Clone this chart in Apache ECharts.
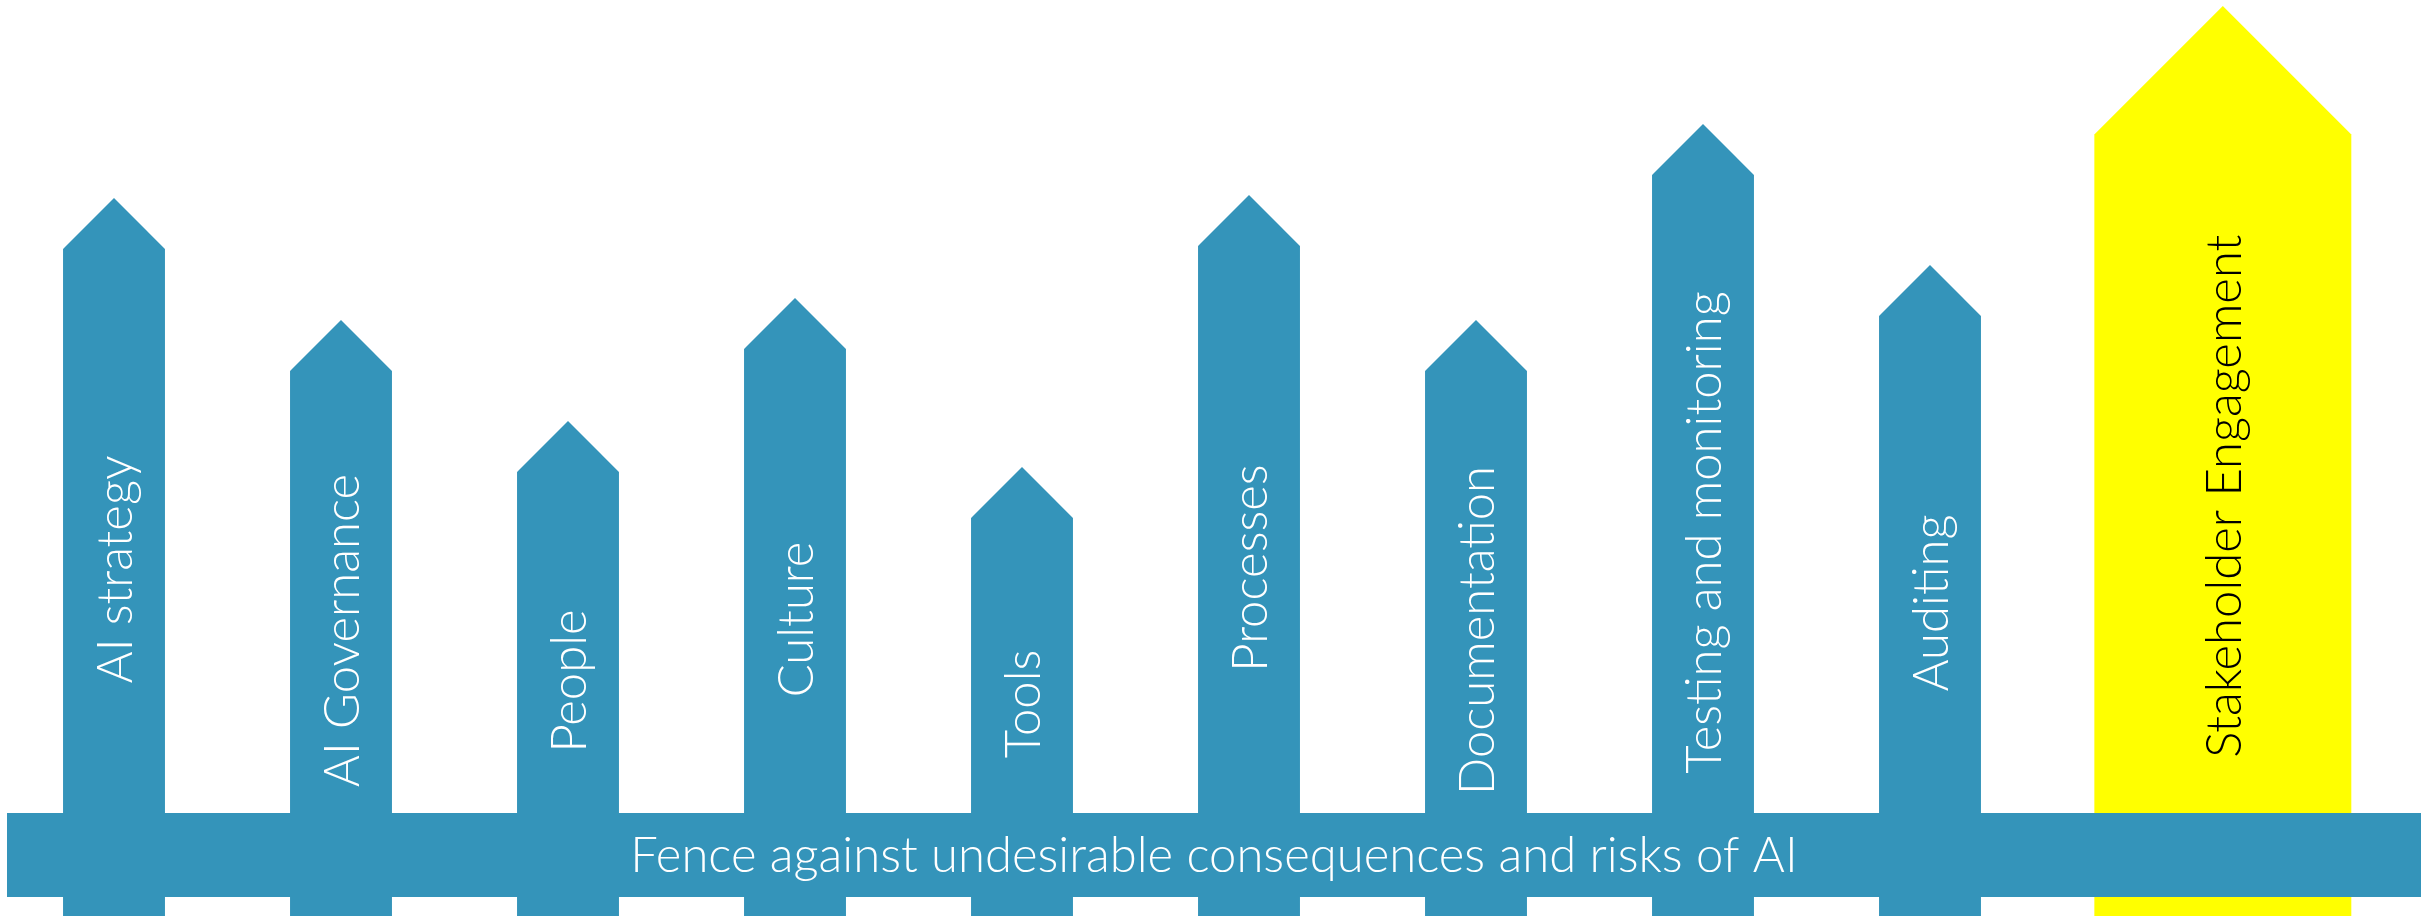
<!DOCTYPE html>
<html>
<head>
<meta charset="utf-8">
<script src="https://cdn.jsdelivr.net/npm/echarts@6/dist/echarts.min.js"></script>
<style>
  html, body { margin: 0; padding: 0; background: #ffffff; }
  #chart { width: 2432px; height: 916px; }
</style>
</head>
<body>
<div id="chart"></div>
<script>
// ---- data ----
const categories = ['AI strategy', 'AI Governance', 'People', 'Culture', 'Tools', 'Processes',
  'Documentation', 'Testing and monitoring', 'Auditing', 'Stakeholder Engagement'];
const arrowHeights = [718, 596, 495, 618, 449, 721, 596, 792, 651, 910];
const highlighted = [false, false, false, false, false, false, false, false, false, true];
const fenceLabel = 'Fence against undesirable consequences and risks of AI';

// ---- style / layout ----
const BLUE = '#3494BA';
const YELLOW = '#FFFF00';
const FONT = '300 49px Lato, "Open Sans", sans-serif';

const chart = echarts.init(document.getElementById('chart'), null, { renderer: 'canvas' });

function renderArrow(params, api) {
  const idx = api.value(0);
  const v = api.value(1);
  const top = api.coord([idx, v]);
  const base = api.coord([idx, 0]);
  const band = api.size([1, 0])[0];
  const hl = highlighted[idx];
  const w = hl ? band * 1.132 : band * 0.449;
  const cx = top[0] + (hl ? band * 0.29 : 0);
  const half = w / 2;
  const tipY = top[1];
  const shoulderY = tipY + half;
  const bottomY = base[1];
  const labelY = hl ? (shoulderY + bottomY - 26) / 2 - 16 : (shoulderY + bottomY - 26) / 2;
  return {
    type: 'group',
    children: [
      {
        type: 'polygon',
        shape: { points: [[cx - half, bottomY], [cx - half, shoulderY], [cx, tipY], [cx + half, shoulderY], [cx + half, bottomY]] },
        style: { fill: hl ? YELLOW : BLUE }
      },
      {
        type: 'text',
        x: cx + 2,
        y: labelY,
        rotation: Math.PI / 2,
        style: {
          text: categories[idx],
          font: FONT,
          fill: hl ? '#000000' : '#ffffff',
          align: 'center',
          verticalAlign: 'middle',
          textAlign: 'center',
          textVerticalAlign: 'middle'
        }
      }
    ]
  };
}

const option = {
  animation: false,
  backgroundColor: '#ffffff',
  grid: { left: 0.5, width: 2270, top: 0, bottom: 0 },
  xAxis: { type: 'category', data: categories, show: false, boundaryGap: true },
  yAxis: { type: 'value', min: 0, max: 916, show: false },
  series: [{
    type: 'custom',
    renderItem: renderArrow,
    data: categories.map((c, i) => [i, arrowHeights[i]])
  }],
  graphic: [
    {
      type: 'rect',
      z: 100,
      shape: { x: 7, y: 813, width: 2414, height: 84 },
      style: { fill: BLUE }
    },
    {
      type: 'text',
      z: 101,
      x: 1214,
      y: 856,
      style: {
        text: fenceLabel,
        font: FONT,
        fill: '#ffffff',
        align: 'center',
        verticalAlign: 'middle'
      }
    }
  ]
};
chart.setOption(option);
</script>
</body>
</html>
